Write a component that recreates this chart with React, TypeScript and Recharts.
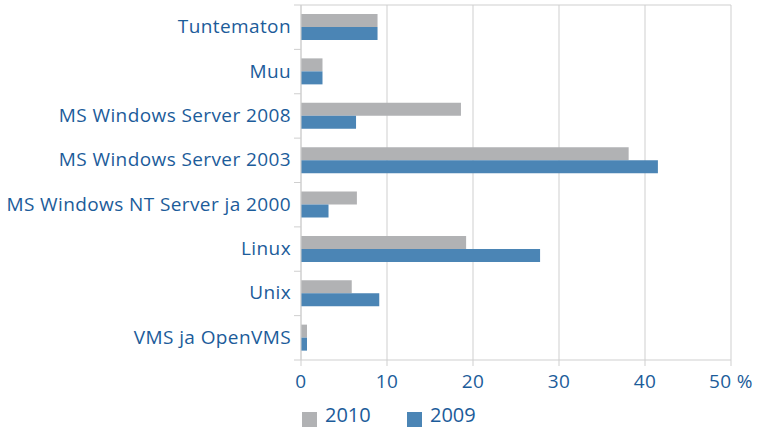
import { BarChart, Bar, XAxis, YAxis, CartesianGrid, Legend } from "recharts";

const categories = [
  "Tuntematon",
  "Muu",
  "MS Windows Server 2008",
  "MS Windows Server 2003",
  "MS Windows NT Server ja 2000",
  "Linux",
  "Unix",
  "VMS ja OpenVMS",
];
const values2010 = [8.9, 2.5, 18.6, 38.1, 6.5, 19.2, 5.9, 0.7];
const values2009 = [8.9, 2.5, 6.4, 41.5, 3.2, 27.8, 9.1, 0.7];
const xTicks = [0, 10, 20, 30, 40, 50];

const TEXT = "#1c5c9a";
const GRID = "#cfcfcf";
const GRAY = "#b1b2b4";
const BLUE = "#4b85b5";
const FONT = "'Open Sans', sans-serif";

const data = categories.map((name, i) => ({
  name,
  y2010: values2010[i],
  y2009: values2009[i],
}));

function CategoryTick(props: any) {
  const { x, y, payload, index } = props;
  const half = payload?.offset ?? 22;
  const last = index === categories.length - 1;
  return (
    <g>
      <line x1={x + 3} x2={x + 10} y1={y - half} y2={y - half} stroke={GRID} />
      {last && <line x1={x + 3} x2={x + 10} y1={y + half} y2={y + half} stroke={GRID} />}
      <text
        x={x}
        y={y}
        dy={6}
        textAnchor="end"
        fill={TEXT}
        fontSize={19}
        letterSpacing={0.4}
        fontFamily={FONT}
      >
        {payload.value}
      </text>
    </g>
  );
}

function LegendContent() {
  const items = [
    { label: "2010", color: GRAY },
    { label: "2009", color: BLUE },
  ];
  return (
    <div style={{ height: 39, position: "relative", fontFamily: FONT }}>
      {items.map((it, i) => (
        <div key={it.label} style={{ position: "absolute", left: 302 + i * 105, top: 0 }}>
          <span
            style={{
              position: "absolute",
              left: 0,
              top: 22,
              width: 15,
              height: 15,
              background: it.color,
            }}
          />
          <span
            style={{
              position: "absolute",
              left: 23,
              top: 11,
              color: TEXT,
              fontSize: 20,
              lineHeight: "27px",
              whiteSpace: "nowrap",
            }}
          >
            {it.label}
          </span>
        </div>
      ))}
    </div>
  );
}

export default function App() {
  return (
    <div style={{ position: "absolute", left: 0, top: 0, width: 757, height: 429, background: "#fff" }}>
      <BarChart
        width={757}
        height={429}
        data={data}
        layout="vertical"
        margin={{ top: 4, right: 26, bottom: 0, left: 0 }}
        barGap={0}
        barSize={13}
      >
        <CartesianGrid horizontal={false} stroke={GRID} />
        <XAxis
          type="number"
          domain={[0, 50]}
          ticks={xTicks}
          interval={0}
          height={30}
          axisLine={{ stroke: GRID }}
          tickLine={{ stroke: GRID }}
          tickSize={6}
          tickMargin={9}
          tick={{ fill: TEXT, fontSize: 19, fontFamily: FONT, letterSpacing: 0.4 }}
          tickFormatter={(v: number) => (v === 50 ? "50 %" : String(v))}
        />
        <XAxis
          xAxisId="top"
          type="number"
          orientation="top"
          domain={[0, 50]}
          height={1}
          tick={false}
          tickLine={false}
          axisLine={{ stroke: GRID }}
        />
        <YAxis
          type="category"
          dataKey="name"
          width={301}
          axisLine={{ stroke: GRID }}
          tickLine={false}
          tickSize={7}
          tickMargin={3}
          interval={0}
          tick={<CategoryTick />}
        />
        <Legend verticalAlign="bottom" content={<LegendContent />} />
        <Bar dataKey="y2010" name="2010" fill={GRAY} isAnimationActive={false} />
        <Bar dataKey="y2009" name="2009" fill={BLUE} isAnimationActive={false} />
      </BarChart>
    </div>
  );
}
